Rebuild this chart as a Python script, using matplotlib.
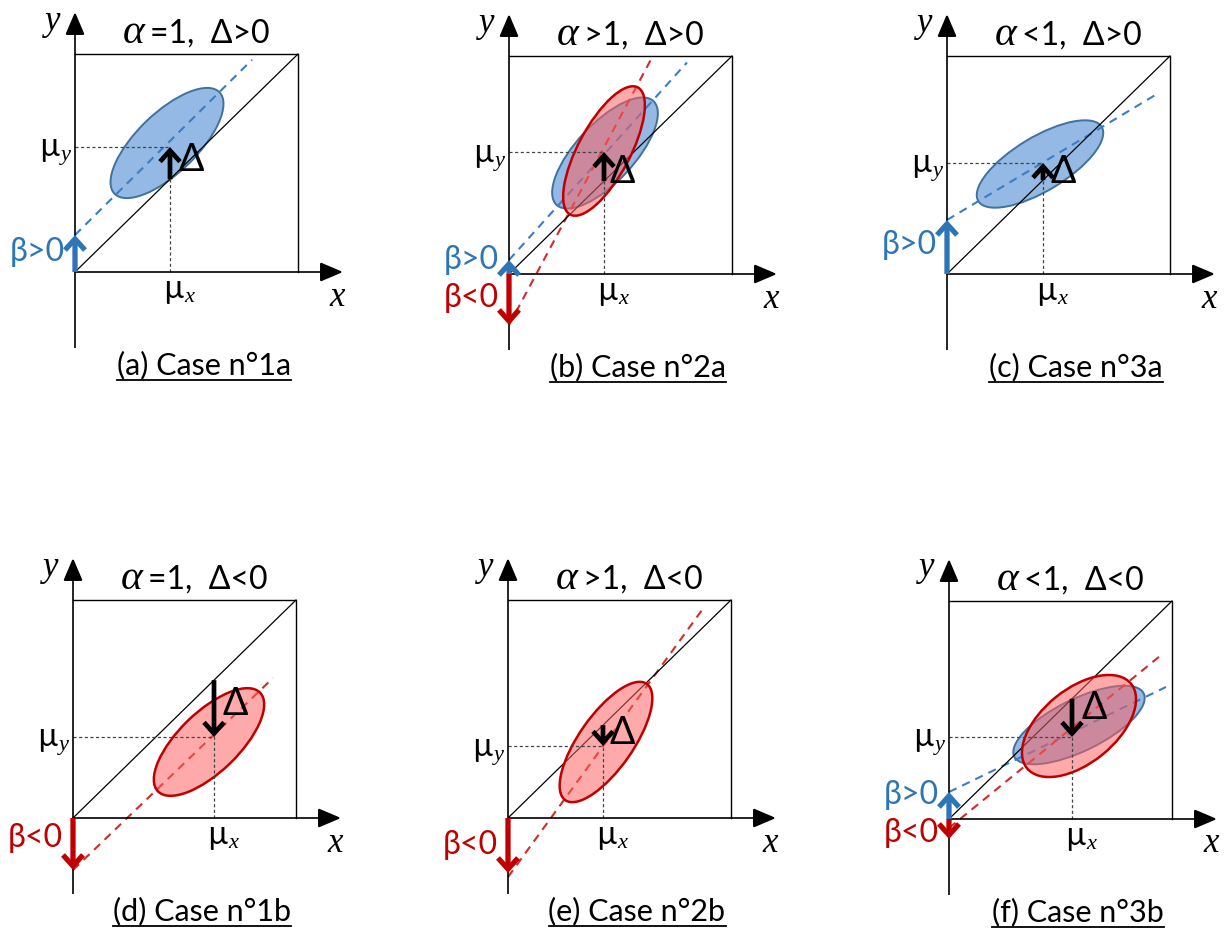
import matplotlib.pyplot as plt
from matplotlib.patches import Ellipse

plt.rcParams['font.family'] = ['Lato', 'Open Sans', 'DejaVu Sans']
plt.rcParams['mathtext.fontset'] = 'custom'
plt.rcParams['mathtext.it'] = 'Liberation Serif:italic'
plt.rcParams['mathtext.rm'] = 'Lato'

W, H = 1225, 932

# panel contents
captions = ['(a) Case n°1a', '(b) Case n°2a', '(c) Case n°3a',
            '(d) Case n°1b', '(e) Case n°2b', '(f) Case n°3b']
titles = ['=1,  Δ>0', '>1,  Δ>0', '<1,  Δ>0',
          '=1,  Δ<0', '>1,  Δ<0', '<1,  Δ<0']
mu_x = [95, 95, 96, 141, 95, 123]
mu_y = [125, 122, 111, 81, 72, 82]

# regression lines: (intercept beta, slope alpha, end of line on x)
blue_lines = [(37, 0.99, 177), (14, 1.11, 178), (54, 0.60, 209), None, None, (27, 0.484, 217)]
red_lines = [None, (-51, 1.87, 142), None, (-52, 0.96, 200), (-59, 1.376, 194), (-9, 0.815, 211)]

# data clouds: (centre x, centre y, width, height, angle)
blue_clouds = [(92, 129, 146, 60, 44), (96, 121, 142, 58, 47), (93, 110, 144, 54, 31),
               None, None, (130, 94, 144, 52, 26)]
red_clouds = [None, (95, 123, 144, 52, 62), None,
              (136, 76, 142, 60, 44), (98, 76, 142, 54, 55), (130, 93, 134, 74, 39)]

# beta arrows (length) and label heights
blue_beta = [37, 14, 54, None, None, 27]
red_beta = [None, -51, None, -52, -55, -20]
blue_beta_txt = [20, 14, 29, None, None, 24]
red_beta_txt = [None, -24, None, -20, -27, -14]

# layout
origins = [(75, 272), (509, 274), (947, 274), (73, 818), (508, 818), (949, 819)]
delta_txt = [(116, 112), (113, 102), (116, 102), (162, 114), (114, 85), (145, 111)]
BOX_W, BOX_H = 223, 218

BLUE_FILL = '#93B9E4'
BLUE_EDGE = '#41719C'
BLUE_LINE = '#3A7DC6'
BLUE_TXT = '#2E75B6'
RED_FILL = '#FF6060'
RED_EDGE = '#C00000'
RED_LINE = '#D42A2A'
RED_TXT = '#C00000'

fig = plt.figure(figsize=(12.25, 9.32), dpi=100)
ax = fig.add_axes([0, 0, 1, 1])
ax.set_xlim(0, W)
ax.set_ylim(0, H)
ax.axis('off')

CHEVRON = '->,head_length=0.4,head_width=0.36'


def arrow(p0, p1, color, lw, style, ms, z=6):
    ax.annotate('', xy=p1, xytext=p0,
                arrowprops=dict(arrowstyle=style, color=color, lw=lw, mutation_scale=ms,
                                shrinkA=0, shrinkB=0, joinstyle='miter', capstyle='butt'),
                zorder=z)


for i in range(6):
    ox, oy = origins[i]
    P = lambda u, v: (ox + u, H - oy + v)

    # axes with arrows
    arrow(P(0, 0), P(268, 0), 'black', 1.2, '-|>,head_length=0.8,head_width=0.34', 18, 5)
    arrow(P(0, -76), P(0, 260), 'black', 1.2, '-|>,head_length=0.8,head_width=0.34', 18, 5)
    # box and diagonal
    xs, ys = zip(P(0, BOX_H), P(BOX_W, BOX_H), P(BOX_W, 0))
    ax.plot(xs, ys, color='black', lw=1.0, zorder=4)
    xs, ys = zip(P(0, 0), P(BOX_W, BOX_H))
    ax.plot(xs, ys, color='black', lw=0.9, zorder=2.5)

    # clouds
    if blue_clouds[i]:
        cu, cv, w, h, ang = blue_clouds[i]
        ax.add_patch(Ellipse(P(cu, cv), w, h, angle=ang, facecolor=BLUE_FILL,
                             edgecolor=BLUE_EDGE, lw=1.4, zorder=1))
    if blue_lines[i]:
        b, a, ue = blue_lines[i]
        xs, ys = zip(P(0, b), P(ue, b + a * ue))
        ax.plot(xs, ys, color=BLUE_LINE, lw=1.5, dashes=(4, 3), zorder=2)
    if red_lines[i]:
        b, a, ue = red_lines[i]
        xs, ys = zip(P(0, b), P(ue, b + a * ue))
        ax.plot(xs, ys, color=RED_LINE, lw=1.5, dashes=(4, 3), zorder=2)
    if red_clouds[i]:
        cu, cv, w, h, ang = red_clouds[i]
        ax.add_patch(Ellipse(P(cu, cv), w, h, angle=ang, facecolor=RED_FILL, alpha=0.53,
                             edgecolor='none', zorder=3))
        ax.add_patch(Ellipse(P(cu, cv), w, h, angle=ang, facecolor='none',
                             edgecolor=RED_EDGE, lw=1.8, zorder=3))

    # mean guides
    mx, my = mu_x[i], mu_y[i]
    xs, ys = zip(P(0, my), P(mx, my))
    ax.plot(xs, ys, color='#444444', lw=0.9, dashes=(2.5, 2), zorder=4)
    xs, ys = zip(P(mx, 0), P(mx, mx * BOX_H / BOX_W))
    ax.plot(xs, ys, color='#444444', lw=0.9, dashes=(2.5, 2), zorder=4)

    # delta arrow
    arrow(P(mx, mx * BOX_H / BOX_W), P(mx, my), 'black', 3.4, CHEVRON, 20, 6)
    ax.text(*P(*delta_txt[i]), 'Δ', fontsize=27, ha='center', va='center', zorder=7)

    # beta arrows
    if blue_beta[i]:
        arrow(P(0, 0), P(0, blue_beta[i]), BLUE_TXT, 3.8, CHEVRON, 20, 6)
        ax.text(*P(-10, blue_beta_txt[i]), 'β>0', color=BLUE_TXT, fontsize=23,
                ha='right', va='center', zorder=7)
    if red_beta[i]:
        arrow(P(0, 0), P(0, red_beta[i]), RED_TXT, 3.8, CHEVRON, 20, 6)
        ax.text(*P(-10, red_beta_txt[i]), 'β<0', color=RED_TXT, fontsize=23,
                ha='right', va='center', zorder=7)

    # labels
    ax.text(*P(mx - 7, -26), 'µ$_{x}$', fontsize=23, ha='left', va='baseline', zorder=7)
    ax.text(*P(-3, my - 10), 'µ$_{y}$', fontsize=23, ha='right', va='baseline', zorder=7)
    ax.text(*P(-22, 251), 'y', fontsize=25, fontfamily='Liberation Serif', style='italic',
            ha='center', va='center', zorder=7)
    ax.text(*P(262, -25), 'x', fontsize=25, fontfamily='Liberation Serif', style='italic',
            ha='center', va='center', zorder=7)
    ax.text(*P(70, 229), 'α', fontsize=30, fontfamily='Liberation Serif', style='italic',
            ha='right', va='baseline', zorder=7)
    ax.text(*P(75, 229), titles[i], fontsize=23, ha='left', va='baseline', zorder=7)
    t = ax.text(*P(129, -93), captions[i], fontsize=22, ha='center', va='center', zorder=7)
    fig.canvas.draw()
    bb = t.get_window_extent()
    ax.plot([bb.x0, bb.x1], [bb.y0 - 1, bb.y0 - 1], color='black', lw=1.3, zorder=7)

fig.savefig('out.png', dpi=100)
